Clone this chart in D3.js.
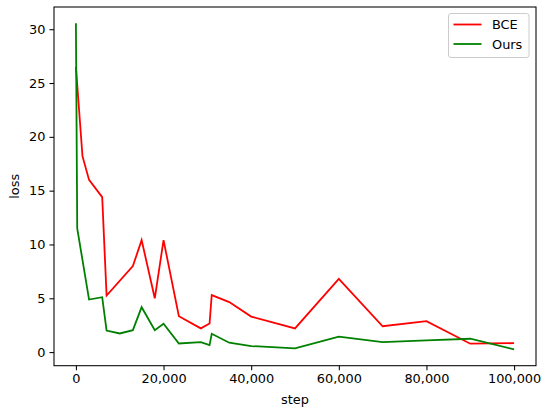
<!DOCTYPE html>
<html>
<head>
<meta charset="utf-8">
<script src="https://cdn.jsdelivr.net/npm/d3@7"></script>
<style>
  html, body { margin: 0; padding: 0; background: #fff; }
  svg { display: block; }
  text { font-family: "DejaVu Sans", sans-serif; }
</style>
</head>
<body>
<svg id="chart" width="550" height="412"></svg>
<script>
// ---- data ----
const seriesNames = ["BCE", "Ours"];
const seriesColors = ["#ff0000", "#008000"];
const bceSteps = [0, 1500, 3000, 6000, 7000, 13000, 15000, 18000, 20000, 23500, 28500, 30500, 31000, 35000, 40000, 50000, 60000, 70000, 80000, 90000, 100000];
const bceLoss  = [26.5, 18.2, 16.0, 14.4, 5.25, 8.0, 10.4, 5.0, 10.4, 3.33, 2.2, 2.65, 5.3, 4.65, 3.3, 2.2, 6.8, 2.4, 2.87, 0.78, 0.83];
const oursSteps = [0, 300, 3000, 6000, 7000, 10000, 13000, 15000, 18000, 20000, 23500, 28500, 30500, 31000, 35000, 40000, 50000, 60000, 70000, 80000, 90000, 100000];
const oursLoss  = [30.55, 11.5, 4.88, 5.1, 2.0, 1.73, 2.04, 4.17, 2.04, 2.63, 0.8, 0.93, 0.65, 1.7, 0.87, 0.56, 0.34, 1.43, 0.93, 1.08, 1.24, 0.25];
const xTicks = [0, 20000, 40000, 60000, 80000, 100000];
const yTicks = [0, 5, 10, 15, 20, 25, 30];
const xLabel = "step";
const yLabel = "loss";

// ---- layout ----
const svg = d3.select("#chart");
const L = 54, R = 536, T = 7, B = 365.7;
const fs = 12.9;

const series = [
  { name: seriesNames[0], color: seriesColors[0], xs: bceSteps, ys: bceLoss },
  { name: seriesNames[1], color: seriesColors[1], xs: oursSteps, ys: oursLoss }
];

const allX = bceSteps.concat(oursSteps), allY = bceLoss.concat(oursLoss);
const [x0, x1] = d3.extent(allX), [y0, y1] = d3.extent(allY);
const mx = (x1 - x0) * 0.05, my = (y1 - y0) * 0.05;

const x = d3.scaleLinear().domain([x0 - mx, x1 + mx]).range([L, R]);
const y = d3.scaleLinear().domain([y0 - my, y1 + my]).range([B, T]);

// lines
const line = d3.line().x(d => x(d[0])).y(d => y(d[1]));
const g = svg.append("g");
series.forEach(s => {
  g.append("path")
    .datum(s.xs.map((v, i) => [v, s.ys[i]]))
    .attr("d", line)
    .attr("fill", "none")
    .attr("stroke", s.color)
    .attr("stroke-width", 1.8)
    .attr("stroke-linejoin", "miter");
});

// axes
const xAxis = svg.append("g").attr("transform", `translate(0,${B})`)
  .call(d3.axisBottom(x).tickValues(xTicks).tickFormat(d3.format(",")).tickSize(4.5).tickPadding(4).tickSizeOuter(0));
const yAxis = svg.append("g").attr("transform", `translate(${L},0)`)
  .call(d3.axisLeft(y).tickValues(yTicks).tickSize(4.5).tickPadding(4).tickSizeOuter(0));
[xAxis, yAxis].forEach(a => {
  a.select(".domain").remove();
  a.selectAll(".tick line").attr("stroke", "#000").attr("stroke-width", 1.05);
  a.selectAll(".tick text").attr("font-size", fs).attr("fill", "#000").attr("font-family", "DejaVu Sans");
});

// spines
svg.append("rect")
  .attr("x", L).attr("y", T).attr("width", R - L).attr("height", B - T)
  .attr("fill", "none").attr("stroke", "#000").attr("stroke-width", 1.05);

// axis labels
svg.append("text").attr("x", (L + R) / 2).attr("y", 404)
  .attr("text-anchor", "middle").attr("font-size", fs).text(xLabel);
svg.append("text").attr("transform", `translate(19,${(T + B) / 2}) rotate(-90)`)
  .attr("text-anchor", "middle").attr("font-size", fs).text(yLabel);

// legend
const lg = svg.append("g");
lg.append("rect").attr("x", 448.5).attr("y", 13.5).attr("width", 80.5).attr("height", 44)
  .attr("rx", 2.5).attr("fill", "#fff").attr("fill-opacity", 0.8)
  .attr("stroke", "#cccccc").attr("stroke-width", 1);
series.forEach((s, i) => {
  const cy = 24.5 + i * 19.5;
  lg.append("line").attr("x1", 453.5).attr("x2", 481.5).attr("y1", cy).attr("y2", cy)
    .attr("stroke", s.color).attr("stroke-width", 1.8);
  lg.append("text").attr("x", 492).attr("y", cy).attr("dy", "0.36em")
    .attr("font-size", fs).text(s.name);
});
</script>
</body>
</html>
